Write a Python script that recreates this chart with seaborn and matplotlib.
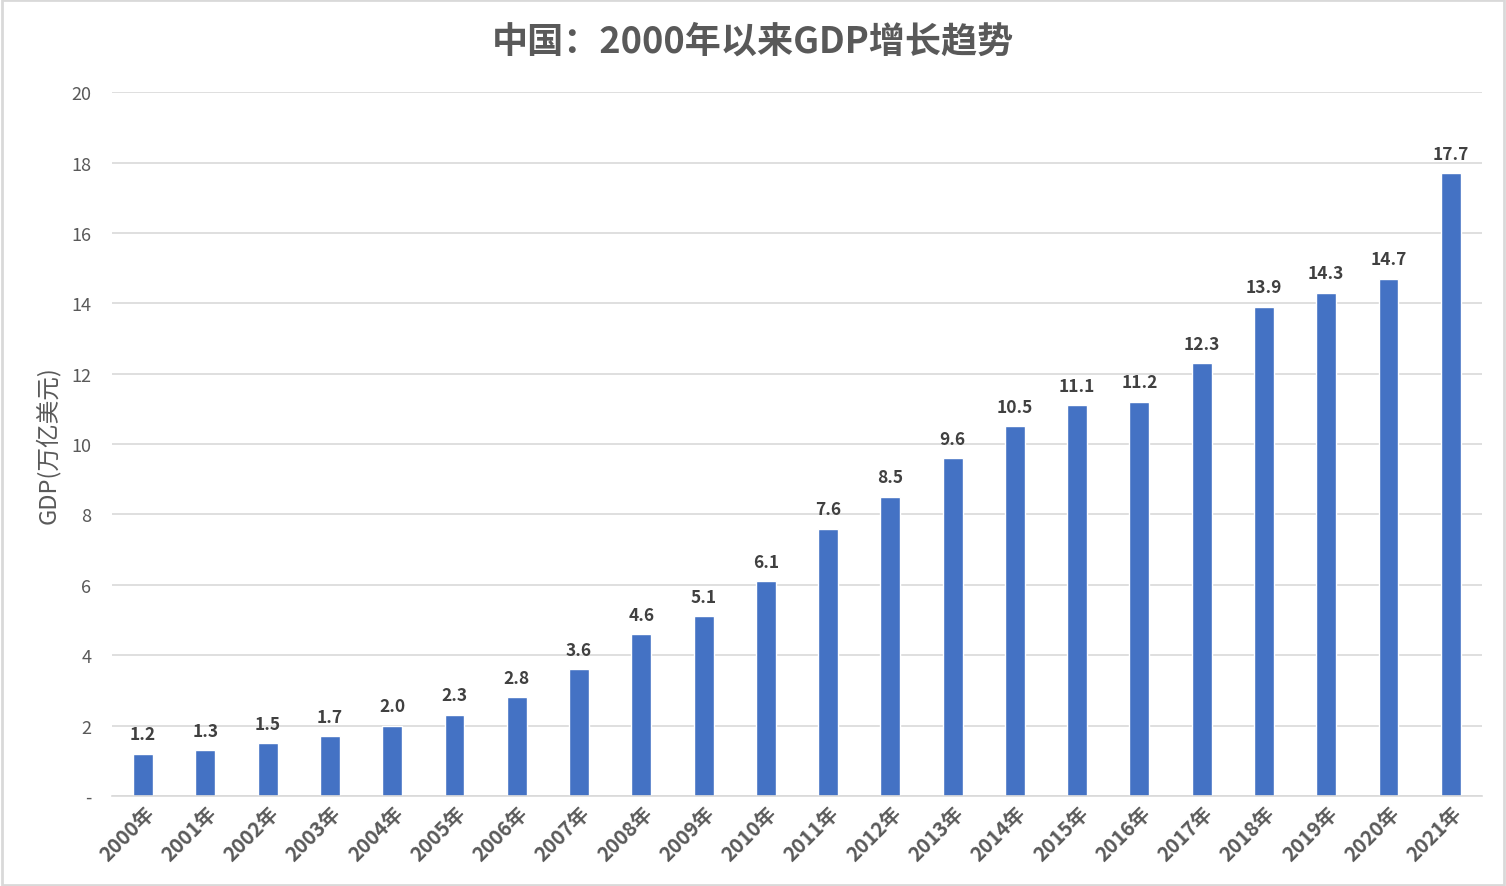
import matplotlib
matplotlib.use('Agg')
import matplotlib.pyplot as plt
import seaborn as sns
import pandas as pd
from matplotlib.ticker import FuncFormatter
from matplotlib.patches import Rectangle

# === 数据 ===
years = [f'{y}年' for y in range(2000, 2022)]
gdp = [1.2, 1.3, 1.5, 1.7, 2.0, 2.3, 2.8, 3.6, 4.6, 5.1, 6.1,
       7.6, 8.5, 9.6, 10.5, 11.1, 11.2, 12.3, 13.9, 14.3, 14.7, 17.7]

df = pd.DataFrame({'year': years, 'gdp': gdp})

sns.set_theme(style='white')
plt.rcParams['font.family'] = ['Noto Sans CJK SC', 'DejaVu Sans']

fig = plt.figure(figsize=(15.06, 8.87), dpi=100)
ax = fig.add_axes([0.0744, 0.1015, 0.9096, 0.7935])

sns.barplot(data=df, x='year', y='gdp', color='#4472C4', width=0.32,
            saturation=1, ax=ax)

# === 坐标轴 ===
ax.set_ylim(0, 20)
ax.set_xlim(-0.5, len(years) - 0.5)
ax.set_yticks(range(0, 21, 2))
ax.yaxis.set_major_formatter(FuncFormatter(lambda v, p: '-' if v == 0 else f'{v:.0f}'))
ax.yaxis.grid(True, color='#D9D9D9', linewidth=1.2)
ax.set_axisbelow(True)
for s in ['top', 'right', 'left']:
    ax.spines[s].set_visible(False)
ax.spines['bottom'].set_color('#D9D9D9')
ax.spines['bottom'].set_linewidth(1.2)
ax.tick_params(axis='y', colors='#595959', labelsize=13, length=0, pad=15)
ax.tick_params(axis='x', colors='#595959', labelsize=14.5, length=0, pad=4)
for lbl in ax.get_xticklabels():
    lbl.set_rotation(45)
    lbl.set_ha('right')
    lbl.set_rotation_mode('anchor')
    lbl.set_fontweight('bold')

ax.set_xlabel('')
ax.set_ylabel('GDP(万亿美元)', fontsize=17, color='#595959',
              fontweight='medium', labelpad=8)

# === 数据标签 ===
for i, v in enumerate(gdp):
    ax.text(i, v + 0.3, f'{v:.1f}', ha='center', va='bottom',
            fontsize=12.5, fontweight='bold', color='#404040')

fig.text(0.5, 0.953, '中国：2000年以来GDP增长趋势', ha='center', va='center',
         fontsize=26, fontweight='bold', color='#595959')

# === 外框 ===
fig.patches.append(Rectangle((0.001, 0.001), 0.998, 0.998, transform=fig.transFigure,
                             fill=False, edgecolor='#D9D9D9', linewidth=2))

fig.savefig('out.png', dpi=100)
